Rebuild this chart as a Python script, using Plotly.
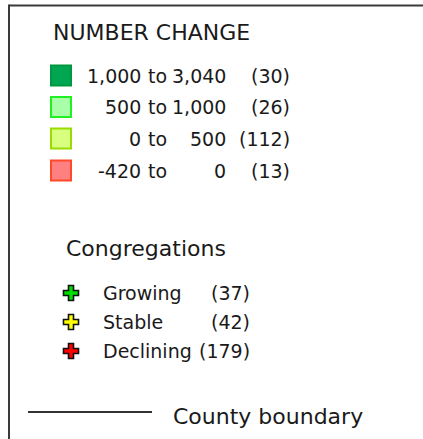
import plotly.graph_objects as go

# ---- data ----
change_title = "NUMBER CHANGE"
range_low = ["1,000", "500", "0", "-420"]
range_high = ["3,040", "1,000", "500", "0"]
range_counts = [30, 26, 112, 13]
range_fill = ["#00a651", "#a8ffa8", "#d8ff80", "#ff8080"]
range_edge = ["#00973f", "#22f022", "#99dd00", "#ff4a2a"]

cong_title = "Congregations"
cong_labels = ["Growing", "Stable", "Declining"]
cong_counts = [37, 42, 179]
cong_colors = ["#00dd00", "#ffff00", "#ff0000"]

boundary_label = "County boundary"

# ---- layout positions (pixels) ----
W, H = 423, 439
FONT = "DejaVu Sans"
TXT = "#1a1a1a"
row_y = [75.5, 107, 138.5, 170.5]
cong_y = [293, 322, 351]

fig = go.Figure()

# squares
fig.add_trace(go.Scatter(
    x=[61] * len(range_counts), y=row_y, mode="markers",
    marker=dict(symbol="square", size=20, color=range_fill,
                line=dict(color=range_edge, width=2)),
    hoverinfo="skip", showlegend=False))

# crosses
fig.add_trace(go.Scatter(
    x=[71] * len(cong_counts), y=cong_y, mode="markers",
    marker=dict(symbol="cross", size=12.5, color=cong_colors,
                line=dict(color="#111111", width=1.6)),
    hoverinfo="skip", showlegend=False))

ann = []
def t(x, y, s, anchor="left", size=19):
    ann.append(dict(x=x, y=y, text=s, xref="x", yref="y", showarrow=False,
                    xanchor=anchor, yanchor="middle",
                    font=dict(family=FONT, size=size, color=TXT)))

t(51, 32.5, change_title, size=22)
for i in range(len(range_counts)):
    t(143, row_y[i], range_low[i], "right")
    t(146, row_y[i], "to")
    t(228, row_y[i], range_high[i], "right")
    t(292, row_y[i], f"({range_counts[i]})", "right")

t(64, 248.5, cong_title, size=22)
for i in range(len(cong_counts)):
    t(101, cong_y[i], cong_labels[i])
    t(252, cong_y[i], f"({cong_counts[i]})", "right")

t(171, 416, boundary_label, size=22)

shapes = [
    dict(type="line", x0=9, x1=W + 2, y0=5.5, y1=5.5, xref="x", yref="y",
         line=dict(color="#3a3a3a", width=2)),
    dict(type="line", x0=9, x1=9, y0=4.5, y1=H + 2, xref="x", yref="y",
         line=dict(color="#3a3a3a", width=2)),
    dict(type="line", x0=28, x1=152, y0=412, y1=412, xref="x", yref="y",
         line=dict(color="#333333", width=2)),
]

fig.update_layout(
    width=W, height=H, margin=dict(l=0, r=0, t=0, b=0),
    paper_bgcolor="white", plot_bgcolor="white",
    xaxis=dict(range=[0, W], visible=False, fixedrange=True),
    yaxis=dict(range=[H, 0], visible=False, fixedrange=True),
    annotations=ann, shapes=shapes, showlegend=False,
)

fig.write_html("out.html", config={"displayModeBar": False, "staticPlot": True},
               post_script="document.body.style.margin='0';")
